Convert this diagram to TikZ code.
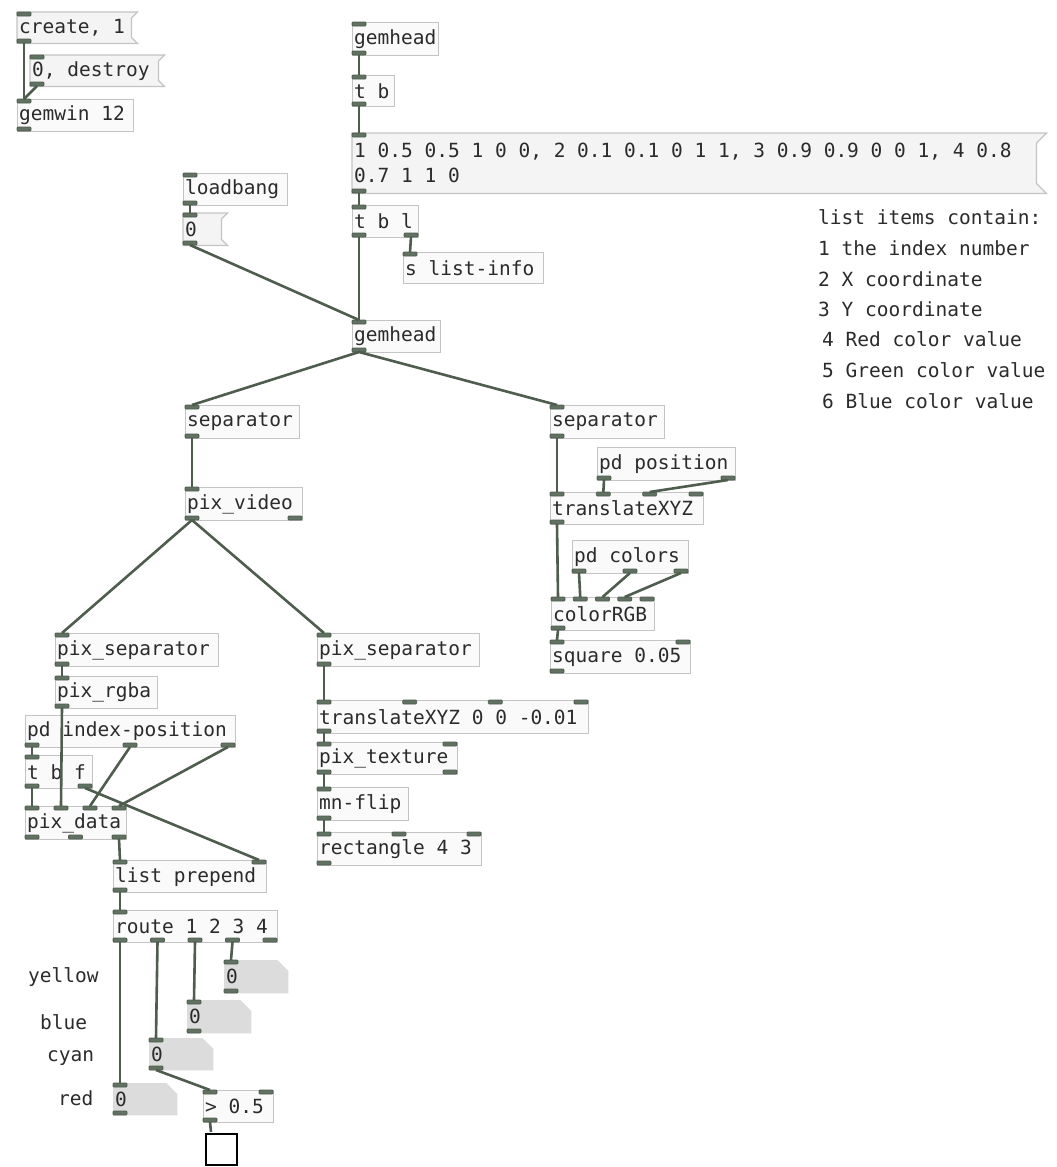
\documentclass[tikz,border=0pt]{standalone}
\usepackage{fontspec}
\setmainfont{DejaVu Sans Mono}
\definecolor{boxline}{HTML}{C4C4C4}
\definecolor{boxfill}{HTML}{FAFAFA}
\definecolor{msgfill}{HTML}{F4F4F4}
\definecolor{wirecol}{HTML}{4E5D4E}
\definecolor{iofill}{HTML}{627262}
\definecolor{atomfill}{HTML}{DCDCDC}
\definecolor{ink}{HTML}{2B2B2B}
\tikzset{
  pdfontsty/.style={font=\fontsize{19.5}{25}\selectfont, text=ink},
  objbox/.style={draw=boxline, fill=boxfill, line width=1.2, inner sep=0, rectangle},
  msgshape/.style={draw=boxline, fill=msgfill, line width=1.2},
  atomshape/.style={fill=atomfill, draw=none},
  boxtext/.style={pdfontsty, inner sep=0, anchor=west, align=left},
  iolet/.style={fill=iofill, draw=wirecol, line width=0.8, rounded corners=1},
  conn/.style={draw=wirecol, line width=2.6},
  comment/.style={pdfontsty, inner sep=0, anchor=west},
}
% name x y w h nin nout
\newcommand\pdio[7]{%
  \ifnum#6>0
    \foreach \k in {1,...,#6}{%
      \pgfmathsetmacro\xx{#2+(#4-14)*(\k-1)/max(#6-1,1)}%
      \path[iolet] (\xx,#3) rectangle ++(14,4);
      \coordinate (#1-i\k) at (\xx+7,#3);
    }%
  \fi
  \ifnum#7>0
    \foreach \k in {1,...,#7}{%
      \pgfmathsetmacro\xx{#2+(#4-14)*(\k-1)/max(#7-1,1)}%
      \path[iolet] (\xx,#3+#5-4) rectangle ++(14,4);
      \coordinate (#1-o\k) at (\xx+7,#3+#5);
    }%
  \fi
}
% name x y w h text nin nout
\newcommand\pdobj[8]{%
  \node[objbox, minimum width=#4, minimum height=#5, anchor=north west] (#1) at (#2,#3) {};
  \node[boxtext] (#1-txt) at ([xshift=2]#1.west) {#6};
  \pdio{#1}{#2}{#3}{#4}{#5}{#7}{#8}%
}
% name x y w h text flag
\newcommand\pdmsg[7]{%
  \node[inner sep=0, minimum width=#4, minimum height=#5, anchor=north west] (#1) at (#2,#3) {};
  \path[msgshape] (#1.north west) -- ([xshift=#7]#1.north east) -- ([yshift=-#7]#1.north east)
     -- ([yshift=#7]#1.south east) -- ([xshift=#7]#1.south east) -- (#1.south west) -- cycle;
  \node[boxtext] (#1-txt) at ([xshift=2]#1.west) {#6};
  \pdio{#1}{#2}{#3}{#4}{#5}{1}{1}%
}
% name x y w h
\newcommand\pdatom[5]{%
  \node[inner sep=0, minimum width=#4, minimum height=#5, anchor=north west] (#1) at (#2,#3) {};
  \path[atomshape] (#1.north west) -- ([xshift=-11]#1.north east) -- ([yshift=-11]#1.north east)
     -- (#1.south east) -- (#1.south west) -- cycle;
  \node[boxtext] (#1-txt) at ([xshift=2]#1.west) {0};
  \pdio{#1}{#2}{#3}{#4}{#5}{1}{1}%
}
\begin{document}
\begin{tikzpicture}[x=1pt,y=-1pt]
\fill[white] (0,0) rectangle (1057,1167);
\useasboundingbox (0,0) rectangle (1057,1167);

% top-left
\pdmsg{mcreate}{17}{12}{114}{31}{create, 1}{6}
\pdmsg{mdestroy}{30}{55}{128}{31}{0, destroy}{6}
\pdobj{gemwin}{17}{99}{116}{32}{gemwin 12}{1}{1}

% top chain
\pdobj{ghA}{352}{22}{86}{33}{gemhead}{1}{1}
\pdobj{tbA}{352}{75}{42}{31}{t b}{1}{1}
\pdmsg{mlist}{352}{133}{684}{60}{1 0.5 0.5 1 0 0, 2 0.1 0.1 0 1 1, 3 0.9 0.9 0 0 1, 4 0.8\\0.7 1 1 0}{10}
\pdobj{tbl}{352}{205}{66}{32}{t b l}{1}{2}
\pdobj{slist}{403}{252}{140}{31}{s list-info}{1}{0}
\pdobj{loadbang}{183}{173}{104}{32}{loadbang}{1}{1}
\pdmsg{mzero}{183}{213}{38}{32}{0}{6}
\pdobj{ghB}{352}{320}{88}{32}{gemhead}{1}{1}

% right branch
\pdobj{sepL}{185}{405}{114}{33}{separator}{1}{1}
\pdobj{sepR}{550}{405}{114}{33}{separator}{1}{1}
\pdobj{pdpos}{597}{447}{138}{33}{pd position}{0}{2}
\pdobj{trxyz}{550}{492}{153}{32}{translateXYZ}{4}{1}
\pdobj{pdcol}{572}{540}{116}{33}{pd colors}{0}{3}
\pdobj{crgb}{551}{597}{103}{33}{colorRGB}{5}{1}
\pdobj{sq}{550}{640}{140}{33}{square 0.05}{2}{1}

% video branch
\pdobj{pixvid}{185}{487}{117}{33}{pix\_video}{1}{2}
\pdobj{psepL}{55}{633}{163}{33}{pix\_separator}{1}{1}
\pdobj{psepR}{317}{633}{162}{33}{pix\_separator}{1}{1}
\pdobj{rgba}{55}{676}{102}{32}{pix\_rgba}{1}{1}
\pdobj{pdidx}{25}{715}{210}{32}{pd index-position}{0}{3}
\pdobj{tbf}{25}{755}{67}{33}{t b f}{1}{2}
\pdobj{pdata}{25}{806}{101}{33}{pix\_data}{4}{3}
\pdobj{lprep}{113}{860}{153}{32}{list prepend}{2}{1}
\pdobj{route}{113}{910}{164}{32}{route 1 2 3 4}{1}{5}

\pdobj{trB}{317}{700}{271}{33}{translateXYZ 0 0 -0.01}{4}{1}
\pdobj{ptex}{317}{742}{140}{32}{pix\_texture}{2}{2}
\pdobj{mnflip}{317}{787}{91}{33}{mn-flip}{1}{1}
\pdobj{rect}{317}{832}{164}{33}{rectangle 4 3}{3}{1}

% number boxes
\pdatom{nY}{224}{960}{64}{33}
\pdatom{nB}{187}{1000}{64}{33}
\pdatom{nC}{149}{1038}{64}{32}
\pdatom{nR}{113}{1083}{64}{32}
\pdobj{gt}{203}{1090}{70}{32}{> 0.5}{2}{1}
\node[draw=black, line width=2.4, fill=white, minimum size=31, inner sep=0, anchor=north west] (tgl) at (205,1133) {};
\coordinate (tgl-i1) at (211,1132);

% labels
\node[comment] (lyellow) at (28,977) {yellow};
\node[comment] (lblue) at (40,1022) {blue};
\node[comment] (lcyan) at (47,1058) {cyan};
\node[comment] (lred) at (58,1098) {red};

% comments
\node[comment] (c0) at (818,217) {list items contain:};
\node[comment] (c1) at (818,248) {1 the index number};
\node[comment] (c2) at (818,279) {2 X coordinate};
\node[comment] (c3) at (818,309) {3 Y coordinate};
\node[comment] (c4) at (822,339) {4 Red color value};
\node[comment] (c5) at (822,370) {5 Green color value};
\node[comment] (c6) at (822,401) {6 Blue color value};

% connections
\draw[conn] (mcreate-o1) -- (gemwin-i1);
\draw[conn] (mdestroy-o1) -- (gemwin-i1);
\draw[conn] (ghA-o1) -- (tbA-i1);
\draw[conn] (tbA-o1) -- (mlist-i1);
\draw[conn] (mlist-o1) -- (tbl-i1);
\draw[conn] (tbl-o2) -- (slist-i1);
\draw[conn] (tbl-o1) -- (ghB-i1);
\draw[conn] (loadbang-o1) -- (mzero-i1);
\draw[conn] (mzero-o1) -- (ghB-i1);
\draw[conn] (ghB-o1) -- (sepL-i1);
\draw[conn] (ghB-o1) -- (sepR-i1);
\draw[conn] (sepL-o1) -- (pixvid-i1);
\draw[conn] (sepR-o1) -- (trxyz-i1);
\draw[conn] (pdpos-o1) -- (trxyz-i2);
\draw[conn] (pdpos-o2) -- (trxyz-i3);
\draw[conn] (trxyz-o1) -- (crgb-i1);
\draw[conn] (pdcol-o1) -- (crgb-i2);
\draw[conn] (pdcol-o2) -- (crgb-i3);
\draw[conn] (pdcol-o3) -- (crgb-i4);
\draw[conn] (crgb-o1) -- (sq-i1);
\draw[conn] (pixvid-o1) -- (psepL-i1);
\draw[conn] (pixvid-o1) -- (psepR-i1);
\draw[conn] (psepL-o1) -- (rgba-i1);
\draw[conn] (rgba-o1) -- (pdata-i2);
\draw[conn] (pdidx-o1) -- (tbf-i1);
\draw[conn] (pdidx-o2) -- (pdata-i3);
\draw[conn] (pdidx-o3) -- (pdata-i4);
\draw[conn] (tbf-o1) -- (pdata-i1);
\draw[conn] (tbf-o2) -- (lprep-i2);
\draw[conn] (pdata-o3) -- (lprep-i1);
\draw[conn] (lprep-o1) -- (route-i1);
\draw[conn] (route-o1) -- (nR-i1);
\draw[conn] (route-o2) -- (nC-i1);
\draw[conn] (route-o3) -- (nB-i1);
\draw[conn] (route-o4) -- (nY-i1);
\draw[conn] (nC-o1) -- (gt-i1);
\draw[conn] (gt-o1) -- (tgl-i1);
\draw[conn] (psepR-o1) -- (trB-i1);
\draw[conn] (trB-o1) -- (ptex-i1);
\draw[conn] (ptex-o1) -- (mnflip-i1);
\draw[conn] (mnflip-o1) -- (rect-i1);
\end{tikzpicture}
\end{document}
